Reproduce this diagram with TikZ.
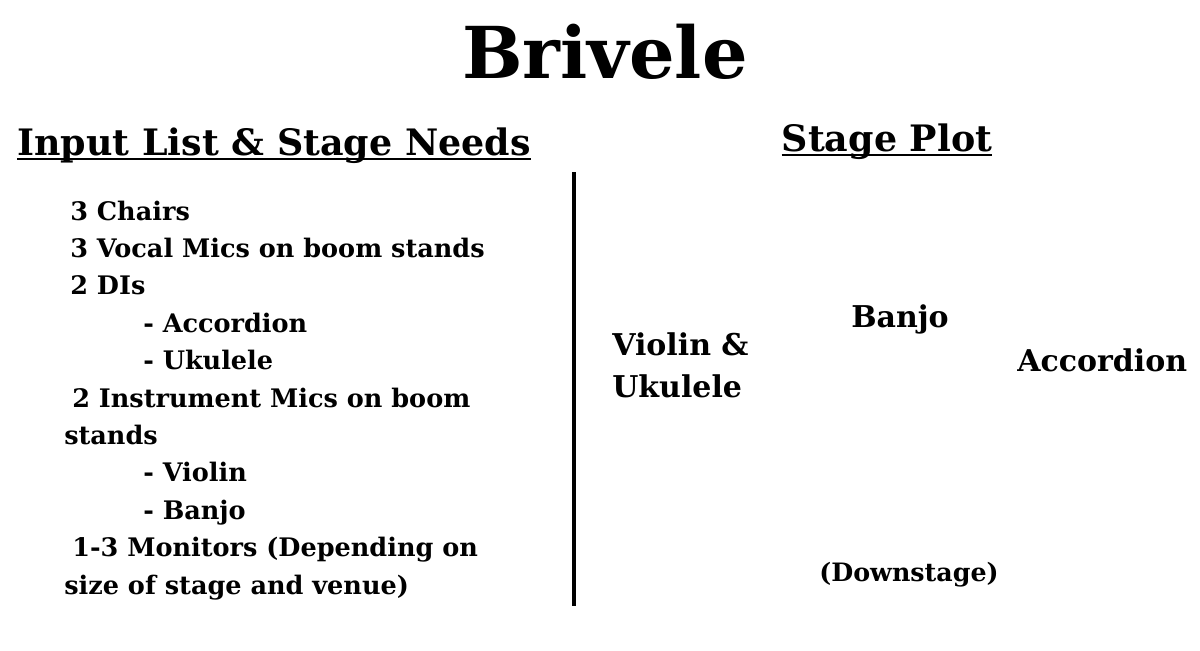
\documentclass[tikz,border=0pt]{standalone}
\usepackage{fontspec}
\setmainfont{DejaVu Serif}
\usepackage{tikz}
\usetikzlibrary{positioning,calc}

\begin{document}
\begin{tikzpicture}[x=0.75pt,y=-0.75pt,
    every node/.style={inner sep=0pt,font=\bfseries},
    item/.style={anchor=base west,font=\fontsize{19.15}{23}\selectfont\bfseries},
    heading/.style={anchor=base,font=\fontsize{27.3}{32}\selectfont\bfseries},
    player/.style={anchor=base west,font=\fontsize{22.5}{27}\selectfont\bfseries}]
    \useasboundingbox (0,0) rectangle (1200,650);
    % Title
    \node[anchor=base,font=\fontsize{53.7}{60}\selectfont\bfseries] (title) at (605,78) {Brivele};

    % Headings
    \node[heading] (needs) at (274,155) {Input List \& Stage Needs};
    \node[heading] (plot) at (887,151) {Stage Plot};
    \draw[line width=1.5pt] ($(needs.base west)+(0,4)$) -- ($(needs.base east)+(0,4)$);
    \draw[line width=1.5pt] ($(plot.base west)+(0,4)$) -- ($(plot.base east)+(0,4)$);

    % Divider
    \coordinate (top) at (574,172);
    \coordinate (bottom) at (574,606);
    \draw[line width=3pt] (top) -- (bottom);

    % Input list
    \node[item] (chairs) at (70,220) {3 Chairs};
    \node[item] (vocal) at (70,257.4) {3 Vocal Mics on boom stands};
    \node[item] (dis) at (70,294.8) {2 DIs};
    \node[item] (di1) at (143,332.2) {- Accordion};
    \node[item] (di2) at (143,369.6) {- Ukulele};
    \node[item] (inst) at (72,407) {2 Instrument Mics on boom};
    \node[item] (inst2) at (64,444.4) {stands};
    \node[item] (mic1) at (143,481.8) {- Violin};
    \node[item] (mic2) at (143,519.2) {- Banjo};
    \node[item] (mon) at (72,556.6) {1-3 Monitors (Depending on};
    \node[item] (mon2) at (64,594) {size of stage and venue)};

    % Stage plot
    \node[player] (violin) at (612,355) {Violin \&};
    \node[player] (uke) at (612,397) {Ukulele};
    \node[player] (banjo) at (851,327) {Banjo};
    \node[player] (accordion) at (1017,371) {Accordion};
    \node[anchor=base,font=\fontsize{19}{22}\selectfont\bfseries] (down) at (909,581) {(Downstage)};
\end{tikzpicture}
\end{document}
